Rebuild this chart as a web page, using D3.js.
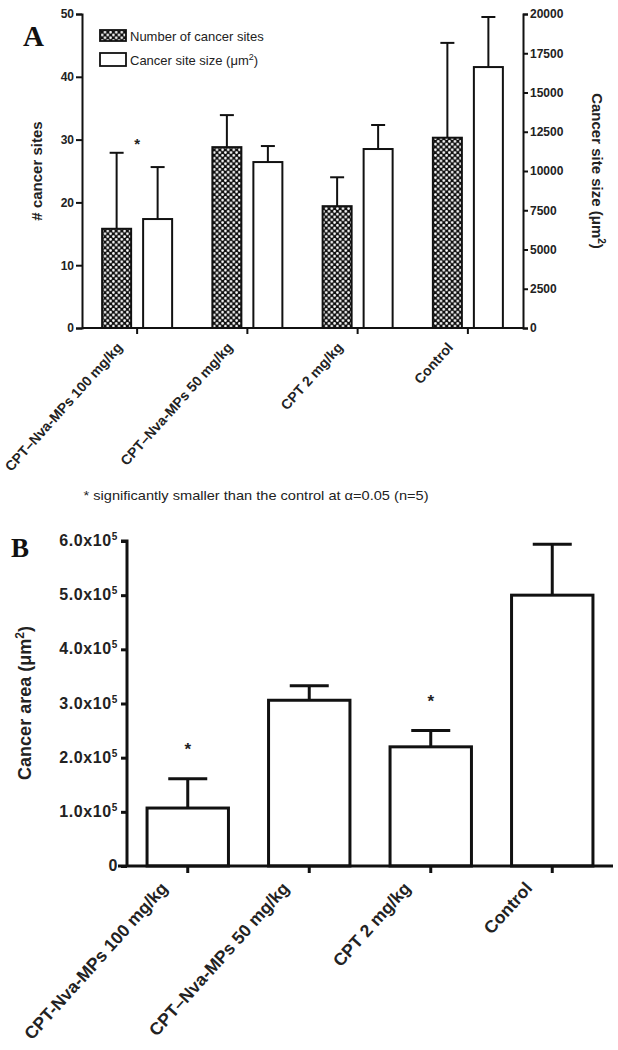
<!DOCTYPE html>
<html><head><meta charset="utf-8">
<script src="https://cdn.jsdelivr.net/npm/d3@7"></script>
<style>body{margin:0;background:#fff}svg{display:block}</style>
</head><body>
<svg id="c" width="618" height="1050"></svg>
<script>
// ---------- data ----------
const categoriesA = ["CPT\u2013Nva-MPs 100 mg/kg", "CPT\u2013Nva-MPs 50 mg/kg", "CPT 2 mg/kg", "Control"];
const sitesMean = [15.8, 28.8, 19.4, 30.3];
const sitesSD   = [12.1, 5.1, 4.6, 15.1];
const sizeMean  = [6940, 10570, 11400, 16620];
const sizeSD    = [3310, 1020, 1530, 3190];
const leftTicksA  = [0, 10, 20, 30, 40, 50];
const rightTicksA = [0, 2500, 5000, 7500, 10000, 12500, 15000, 17500, 20000];
const sigA = [0];

const categoriesB = ["CPT-Nva-MPs 100 mg/kg", "CPT\u2013Nva-MPs 50 mg/kg", "CPT 2 mg/kg", "Control"];
const areaMean = [1.07e5, 3.06e5, 2.20e5, 5.00e5];
const areaSD   = [0.54e5, 0.27e5, 0.30e5, 0.94e5];
const ticksB = [0, 1e5, 2e5, 3e5, 4e5, 5e5, 6e5];
const sigB = [0, 2];

const svg = d3.select("#c");
const F = "'Liberation Sans', Arial, Helvetica, sans-serif";

// pattern
const defs = svg.append("defs");
const pat = defs.append("pattern").attr("id","dots").attr("patternUnits","userSpaceOnUse")
  .attr("width",5.6).attr("height",5.6);
pat.append("rect").attr("width",5.6).attr("height",5.6).attr("fill","#111");
pat.append("circle").attr("cx",1.4).attr("cy",1.4).attr("r",1.3).attr("fill","#fff");
pat.append("circle").attr("cx",4.2).attr("cy",4.2).attr("r",1.3).attr("fill","#fff");

// ================= Panel A =================
const A = {l:82, r:523, t:14, b:328};
const xA = d3.scaleBand().domain(categoriesA).range([A.l, A.r]);
const yL = d3.scaleLinear().domain([0,50]).range([A.b, A.t]);
const yR = d3.scaleLinear().domain([0,20000]).range([A.b, A.t]);
const gA = svg.append("g");
const bwA = 29, offA = 20.5;

function errBar(g, cx, yTop, yCap, cap, sw){
  g.append("line").attr("x1",cx).attr("x2",cx).attr("y1",yTop).attr("y2",yCap).attr("stroke","#111").attr("stroke-width",sw);
  g.append("line").attr("x1",cx-cap/2).attr("x2",cx+cap/2).attr("y1",yCap).attr("y2",yCap).attr("stroke","#111").attr("stroke-width",sw);
}

categoriesA.forEach((c,i)=>{
  const cx = xA(c) + xA.bandwidth()/2;
  const hx = cx - offA;
  errBar(gA, hx, yL(sitesMean[i]), yL(sitesMean[i]+sitesSD[i]), 14, 2);
  gA.append("rect").attr("x",hx-bwA/2).attr("y",yL(sitesMean[i])).attr("width",bwA)
    .attr("height",A.b-yL(sitesMean[i])).attr("fill","url(#dots)").attr("stroke","#111").attr("stroke-width",2);
  const wx = cx + offA;
  errBar(gA, wx, yR(sizeMean[i]), yR(sizeMean[i]+sizeSD[i]), 14, 2);
  gA.append("rect").attr("x",wx-bwA/2).attr("y",yR(sizeMean[i])).attr("width",bwA)
    .attr("height",A.b-yR(sizeMean[i])).attr("fill","#fff").attr("stroke","#111").attr("stroke-width",2);
});

// axes A
const axL = gA.append("g").attr("transform",`translate(${A.l},0)`)
  .call(d3.axisLeft(yL).tickValues(leftTicksA).tickSize(6).tickPadding(2));
const axR = gA.append("g").attr("transform",`translate(${A.r},0)`)
  .call(d3.axisRight(yR).tickValues(rightTicksA).tickSize(5).tickPadding(2).tickFormat(d3.format("d")));
const axB = gA.append("g").attr("transform",`translate(0,${A.b})`)
  .call(d3.axisBottom(xA).tickSize(6).tickFormat(""));
[axL,axR,axB].forEach(a=>{
  a.select(".domain").attr("stroke","#111").attr("stroke-width",2);
  a.selectAll(".tick line").attr("stroke","#111").attr("stroke-width",2);
  a.selectAll("text").attr("font-family",F).attr("font-size",12).attr("font-weight","bold").attr("fill","#222");
});
axB.select(".domain").attr("d",`M${A.l},0H${A.r}`);
categoriesA.forEach(c=>{
  const cx = xA(c) + xA.bandwidth()/2;
  gA.append("text").attr("transform",`translate(${cx-14},${A.b+20}) rotate(-48)`)
    .attr("text-anchor","end").attr("font-family",F).attr("font-size",14).attr("font-weight","bold")
    .attr("fill","#222").text(c);
});
sigA.forEach(i=>{
  const cx = xA(categoriesA[i]) + xA.bandwidth()/2;
  gA.append("text").attr("x",cx).attr("y",149).attr("text-anchor","middle").attr("font-family",F)
    .attr("font-size",15).attr("font-weight","bold").attr("fill","#222").text("*");
});
gA.append("text").attr("transform","translate(42,171) rotate(-90)").attr("text-anchor","middle")
  .attr("font-family",F).attr("font-size",15).attr("font-weight","bold").attr("fill","#222").text("# cancer sites");
const rt = gA.append("text").attr("transform","translate(592,171) rotate(90)").attr("text-anchor","middle")
  .attr("font-family",F).attr("font-size",15).attr("font-weight","bold").attr("fill","#222");
rt.append("tspan").text("Cancer site size (\u03bcm");
rt.append("tspan").attr("font-size",10).attr("dy",-6).text("2");
rt.append("tspan").attr("dy",6).text(")");
gA.append("text").attr("x",23).attr("y",46).attr("font-family","'Liberation Serif', 'DejaVu Serif', serif")
  .attr("font-size",29).attr("font-weight","bold").attr("fill","#111").text("A");
// legend
gA.append("rect").attr("x",100).attr("y",30).attr("width",26).attr("height",11).attr("fill","url(#dots)").attr("stroke","#111").attr("stroke-width",1.8);
gA.append("text").attr("x",130).attr("y",40.5).attr("font-family",F).attr("font-size",13).attr("fill","#222").text("Number of cancer sites");
gA.append("rect").attr("x",100).attr("y",53).attr("width",26).attr("height",13).attr("fill","#fff").attr("stroke","#111").attr("stroke-width",1.8);
const lt = gA.append("text").attr("x",130).attr("y",64.5).attr("font-family",F).attr("font-size",13).attr("fill","#222");
lt.append("tspan").text("Cancer site size (\u03bcm");
lt.append("tspan").attr("font-size",9).attr("dy",-5).text("2");
lt.append("tspan").attr("dy",5).text(")");

// footnote
const fn = svg.append("text").attr("x",256).attr("y",500).attr("text-anchor","middle").attr("font-family",F)
  .attr("font-size",13.5).attr("fill","#222").attr("textLength",345).attr("lengthAdjust","spacingAndGlyphs");
fn.text("* significantly smaller than the control at \u03b1=0.05 (n=5)");

// ================= Panel B =================
const B = {l:127, r:613, t:541, b:866};
const xB = d3.scaleBand().domain(categoriesB).range([B.l, B.r]).paddingInner(0.33).paddingOuter(0.165);
const yB = d3.scaleLinear().domain([0,6e5]).range([B.b, B.t]);
const gB = svg.append("g");
categoriesB.forEach((c,i)=>{
  const cx = xB(c) + xB.bandwidth()/2;
  errBar(gB, cx, yB(areaMean[i]), yB(areaMean[i]+areaSD[i]), 39, 3);
  gB.append("rect").attr("x",xB(c)).attr("y",yB(areaMean[i])).attr("width",xB.bandwidth())
    .attr("height",B.b-yB(areaMean[i])).attr("fill","#fff").attr("stroke","#111").attr("stroke-width",3);
});
const axBL = gB.append("g").attr("transform",`translate(${B.l},0)`)
  .call(d3.axisLeft(yB).tickValues(ticksB).tickSize(6).tickPadding(2).tickFormat(()=>""));
const axBB = gB.append("g").attr("transform",`translate(0,${B.b})`)
  .call(d3.axisBottom(xB).tickSize(7).tickFormat(""));
[axBL,axBB].forEach(a=>{
  a.select(".domain").attr("stroke","#111").attr("stroke-width",3);
  a.selectAll(".tick line").attr("stroke","#111").attr("stroke-width",3);
});
axBL.select(".domain").attr("d",`M-6,${B.t}H0V${B.b}`);
axBB.select(".domain").attr("d",`M${B.l-9},0H${B.r}`);
ticksB.forEach(v=>{
  const t = gB.append("text").attr("x",B.l-9).attr("y",yB(v)+5).attr("text-anchor","end")
    .attr("font-family",F).attr("font-size",16).attr("font-weight","bold").attr("fill","#222")
    .attr("letter-spacing",0.6);
  if (v===0) { t.text("0"); return; }
  t.append("tspan").text(d3.format(".1f")(v/1e5)+"x10");
  t.append("tspan").attr("font-size",10).attr("dy",-6).text("5");
});
categoriesB.forEach(c=>{
  const cx = xB(c) + xB.bandwidth()/2;
  gB.append("text").attr("transform",`translate(${cx-19},${B.b+23}) rotate(-48)`)
    .attr("text-anchor","end").attr("font-family",F).attr("font-size",17.5).attr("font-weight","bold")
    .attr("fill","#222").text(c);
});
sigB.forEach(i=>{
  const c = categoriesB[i];
  const cx = xB(c) + xB.bandwidth()/2;
  const yy = yB(areaMean[i]+areaSD[i]) - 34;
  gB.append("text").attr("x",cx).attr("y",yy+10).attr("text-anchor","middle").attr("font-family",F)
    .attr("font-size",17).attr("font-weight","bold").attr("fill","#222").text("*");
});
const bt = gB.append("text").attr("transform","translate(31,703) rotate(-90)").attr("text-anchor","middle")
  .attr("font-family",F).attr("font-size",18).attr("font-weight","bold").attr("fill","#222");
bt.append("tspan").text("Cancer area (\u03bcm");
bt.append("tspan").attr("font-size",12).attr("dy",-7).text("2");
bt.append("tspan").attr("dy",7).text(")");
gB.append("text").attr("x",11).attr("y",557).attr("font-family","'Liberation Serif', 'DejaVu Serif', serif")
  .attr("font-size",27).attr("font-weight","bold").attr("fill","#111").text("B");
</script>
</body></html>
